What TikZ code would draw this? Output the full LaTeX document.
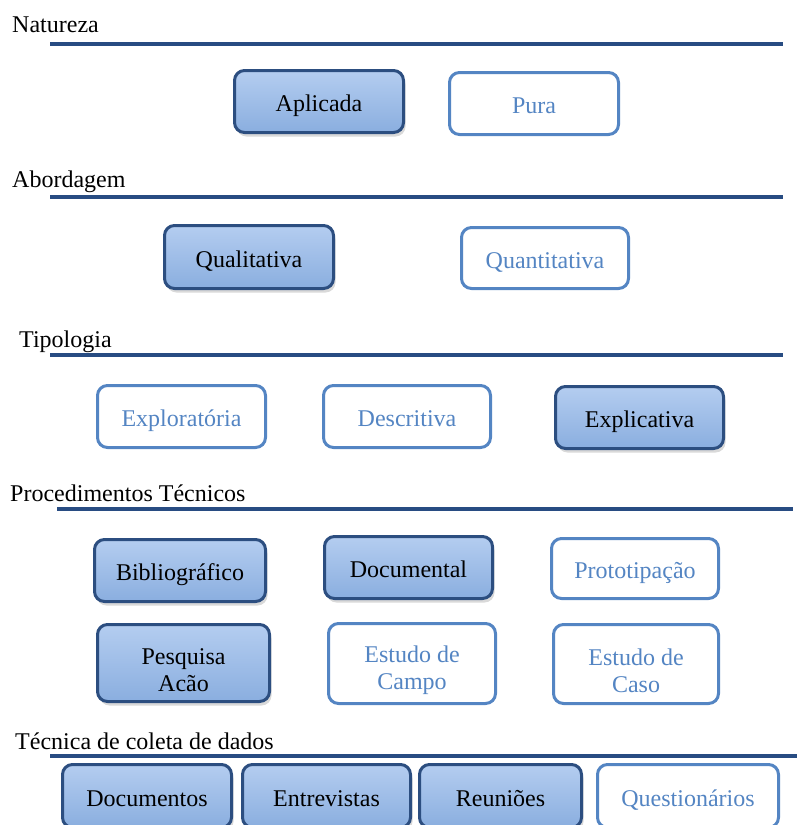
\documentclass[tikz,border=0pt]{standalone}
\usepackage{fontspec}
\setmainfont{Liberation Serif}
\usetikzlibrary{shadows}
\definecolor{rulenavy}{RGB}{40,76,130}
\definecolor{boxedge}{RGB}{44,78,128}
\definecolor{boxtop}{RGB}{180,205,240}
\definecolor{boxbot}{RGB}{138,174,223}
\definecolor{plainblue}{RGB}{84,133,195}
\newcommand\firststrut{\rule{0pt}{30pt}}
\tikzset{
	boxdim/.style 2 args={minimum width=#1pt, minimum height=#2pt},
	twolines/.style={text height={}, text depth={}},
	filledbox/.style={draw=boxedge, line width=3pt, rounded corners=10pt, top color=boxtop, bottom color=boxbot, text=black, align=center, inner sep=0pt, text height=20pt, text depth=0pt, drop shadow={shadow xshift=2pt, shadow yshift=-4pt, opacity=0.3}},
	plainbox/.style={draw=plainblue, line width=3pt, rounded corners=10pt, fill=white, text=plainblue, align=center, inner sep=0pt, text height=20pt, text depth=0pt},
	heading/.style={anchor=base west, inner sep=0pt},
	headrule/.style={draw=rulenavy, line width=4pt},
}

\begin{document}
\begin{tikzpicture}[x=1pt, y=-1pt, font=\fontsize{24}{27}\selectfont]
			%%%%% START %%%%%
			\useasboundingbox (0, 0) rectangle (797, 825);
			\clip (0, 0) rectangle (797, 825);
			
			% Natureza
			\node[heading] (natureza) at (12, 32) {Natureza};
			\draw[headrule] (50, 44) -- (783, 44);
			\node[filledbox, boxdim={169}{62}] (aplicada) at (319, 101.5) {Aplicada};
			\node[plainbox, boxdim={169}{62}] (pura) at (534, 103.5) {Pura};
			
			% Abordagem
			\node[heading] (abordagem) at (12, 187) {Abordagem};
			\draw[headrule] (50, 197) -- (783, 197);
			\node[filledbox, boxdim={169}{63}] (qualitativa) at (249, 257) {Qualitativa};
			\node[plainbox, boxdim={167}{61}] (quantitativa) at (545, 258) {Quantitativa};
			
			% Tipologia
			\node[heading] (tipologia) at (19, 347) {Tipologia};
			\draw[headrule] (50, 355) -- (783, 355);
			\node[plainbox, boxdim={168}{62}] (exploratoria) at (181.5, 416.5) {Exploratória};
			\node[plainbox, boxdim={167}{62}] (descritiva) at (407, 416.5) {Descritiva};
			\node[filledbox, boxdim={168}{62}] (explicativa) at (639.5, 417.5) {Explicativa};
			
			% Procedimentos
			\node[heading] (procedimentos) at (10, 501) {Procedimentos Técnicos};
			\draw[headrule] (57, 509) -- (793, 509);
			\node[filledbox, boxdim={171}{62}] (bibliografico) at (180, 570.5) {Bibliográfico};
			\node[filledbox, boxdim={168}{62}] (documental) at (408.5, 567.5) {Documental};
			\node[plainbox, boxdim={167}{60}] (prototipacao) at (635, 568.5) {Prototipação};
			\node[filledbox, twolines, boxdim={172}{77}] (pesquisaacao) at (183.5, 663) {\firststrut Pesquisa\\Acão};
			\node[plainbox, twolines, boxdim={167}{80}] (estudocampo) at (412, 663.5) {\firststrut Estudo de\\Campo};
			\node[plainbox, twolines, boxdim={165}{79}] (estudocaso) at (636, 664) {\firststrut Estudo de\\Caso};
			
			% Tecnica de coleta
			\node[heading] (tecnica) at (15, 749) {Técnica de coleta de dados};
			\draw[headrule] (50, 756) -- (797, 756);
			\node[filledbox, boxdim={169}{63}] (documentos) at (147, 796) {Documentos};
			\node[filledbox, boxdim={168}{63}] (entrevistas) at (326.5, 796) {Entrevistas};
			\node[filledbox, boxdim={162}{63}] (reunioes) at (500.5, 796) {Reuniões};
			\node[plainbox, boxdim={181}{63}] (questionarios) at (688, 796) {Questionários};
			
			%%%%% END %%%%%
\end{tikzpicture}
\end{document}
